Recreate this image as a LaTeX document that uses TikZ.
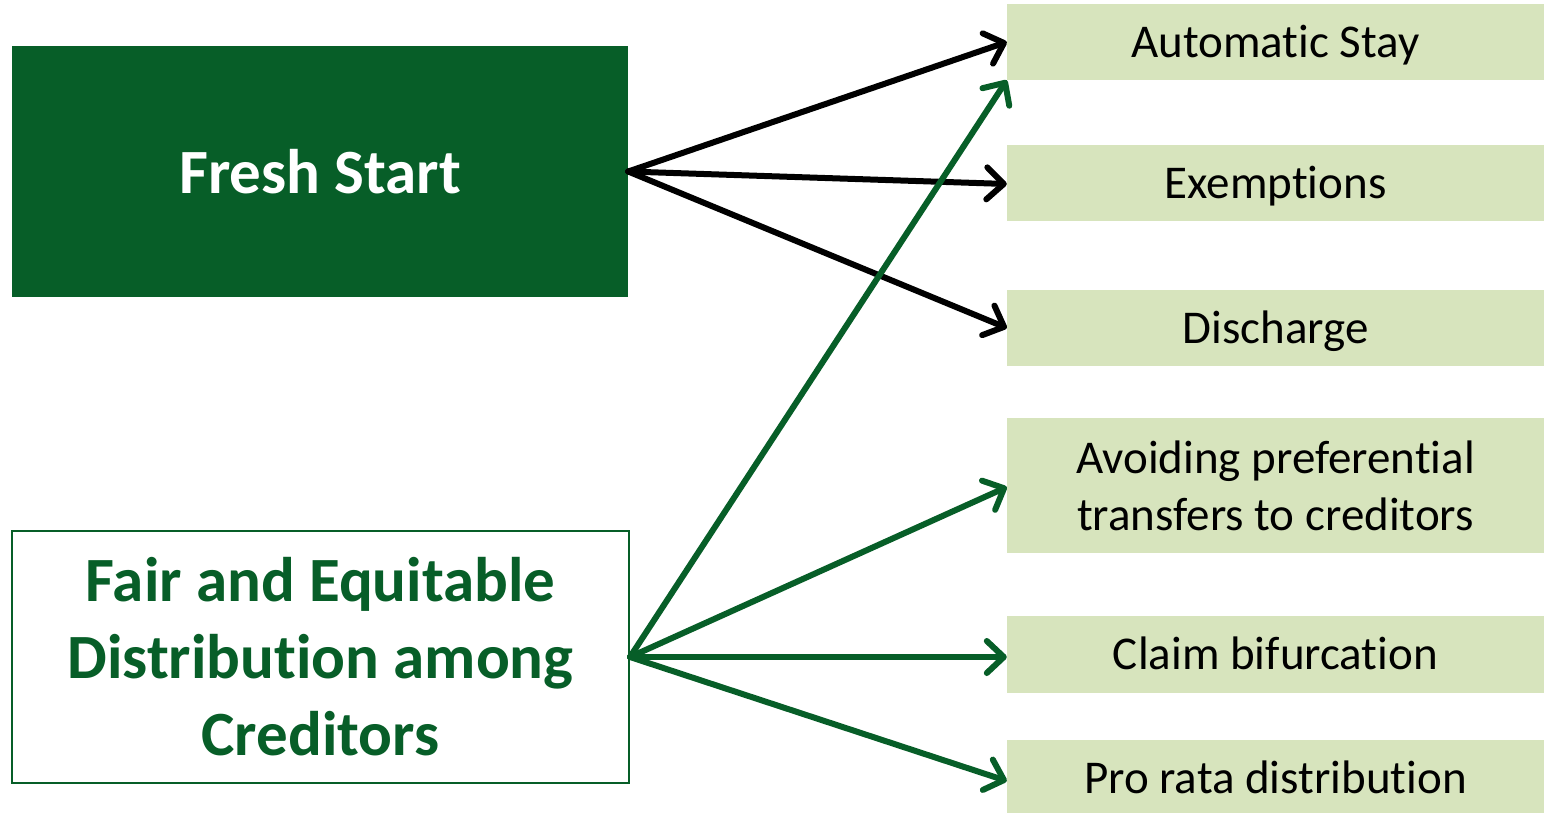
\documentclass[tikz,border=0pt]{standalone}
\usepackage{fontspec}
\setmainfont{Carlito}[Ligatures={NoCommon,NoContextual,NoRare}]
\usetikzlibrary{arrows.meta}
\definecolor{deepgreen}{HTML}{075E28}
\definecolor{palegreen}{HTML}{D7E4BD}
% keep "t" and "i" as separate glyphs
\newcommand{\tisep}{t\kern0pt i}
\begin{document}
\begin{tikzpicture}[x=1pt,y=-1pt,
  goalfill/.style={fill=deepgreen, draw=none, minimum width=616pt, minimum height=251pt,
    inner sep=0pt, text=white, font=\fontsize{63}{77}\selectfont\bfseries, align=center},
  goalframe/.style={fill=white, draw=deepgreen, line width=2pt, minimum width=617pt, minimum height=252pt,
    inner sep=0pt, text=deepgreen, font=\fontsize{63}{77}\selectfont\bfseries, align=center},
  item/.style={fill=palegreen, draw=none, minimum width=537pt, inner sep=0pt,
    font=\fontsize{47}{57}\selectfont, align=center},
  oneline/.style={item, minimum height=#1, text height=32pt, text depth=2pt},
  link/.style={line width=6pt, line cap=round, line join=round,
    -{Straight Barb[length=17pt,width=32pt,round]}},
]
\useasboundingbox (0,0) rectangle (1544,812);
\clip (0,0) rectangle (1544,812);

% goals
\node[goalfill]  (fresh) at (320,171.5) {Fresh Start};
\node[goalframe] (fair)  at (320.5,657) {Fair and Equitable\\Distribu\tisep on among\\Creditors};

% mechanisms
\node[oneline=76pt] (stay)    at (1275.5,42)    {Automa\tisep c Stay};
\node[oneline=76pt] (exempt)  at (1275.5,183)   {Exemptions};
\node[oneline=76pt] (dis)     at (1275.5,328)   {Discharge};
\node[item, minimum height=135pt] (avoid) at (1275.5,485.5) {Avoiding preferen\tisep al\\transfers to creditors};
\node[oneline=77pt] (bifur)   at (1275.5,654.5) {Claim bifurca\tisep on};
\node[oneline=76pt] (prorata) at (1275.5,778)   {Pro rata distribu\tisep on};

% links from fresh start
\draw[link, black] (fresh.east) -- (stay.west);
\draw[link, black] (fresh.east) -- ([yshift=-1pt]exempt.west);
\draw[link, black] (fresh.east) -- (dis.west);

% links from fair distribution
\draw[link, deepgreen] (fair.east) -- (stay.south west);
\draw[link, deepgreen] (fair.east) -- ([yshift=-1.5pt]avoid.west);
\draw[link, deepgreen] (fair.east) -- ([yshift=-2.5pt]bifur.west);
\draw[link, deepgreen] (fair.east) -- ([yshift=-3pt]prorata.west);
\end{tikzpicture}
\end{document}
